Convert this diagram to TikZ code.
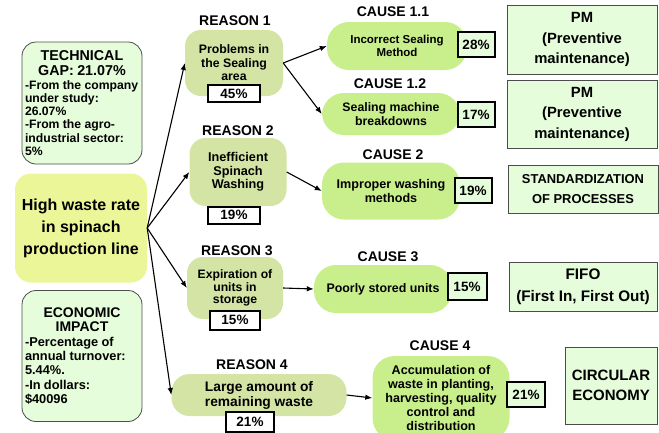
\documentclass[tikz,border=0pt]{standalone}
\usepackage{fontspec}
\setmainfont{Liberation Sans}
\usetikzlibrary{arrows.meta}
\definecolor{infofill}{RGB}{229,253,218}
\definecolor{mainfill}{RGB}{234,246,152}
\definecolor{reasonfill}{RGB}{212,228,165}
\definecolor{causefill}{RGB}{200,239,140}
\newcommand{\fs}[2]{\fontsize{#1}{#2}\selectfont}
\tikzset{arrow/.style={-{Latex[length=7pt, width=5.5pt]}, line width=1.1pt}}
\tikzset{infobox/.style={draw=black!70, line width=0.8pt, fill=infofill, rounded corners=14pt, inner sep=3pt, font=\bfseries}}
\tikzset{mainbox/.style={fill=mainfill, rounded corners=16pt, align=center, font=\bfseries}}
\tikzset{reasonbox/.style={fill=reasonfill, rounded corners=16pt, align=center, font=\bfseries}}
\tikzset{causebox/.style={fill=causefill, rounded corners=22pt, align=center, font=\bfseries}}
\tikzset{pctbox/.style={draw=black, line width=2pt, fill=white, font=\bfseries\fs{13.5}{15}, inner sep=0pt}}
\tikzset{cpctbox/.style={pctbox, fill=infofill}}
\tikzset{actionbox/.style={draw=black!70, line width=0.8pt, fill=infofill, align=center, font=\bfseries}}
\tikzset{head/.style={font=\bfseries\fs{14}{16}, inner sep=0pt}}

\begin{document}
\begin{tikzpicture}[x=1pt, y=-1pt]
    \useasboundingbox (0,0) rectangle (659,432);
    % left column
    \node[infobox, minimum width=120pt, minimum height=122pt, text width=114pt] (gap) at (82,103) {{\fs{14.3}{15.5}\centering TECHNICAL\\GAP: 21.07\%\par}{\fs{12.2}{13.3}\raggedright -From the company\\under study:\\26.07\%\\-From the agro-\\industrial sector:\\5\%\par}};
    \node[mainbox, minimum width=132pt, minimum height=109pt, font=\bfseries\fs{16}{22}] (main) at (81,228) {High waste rate\\in spinach\\production line};
    \node[infobox, minimum width=119pt, minimum height=131pt, text width=114pt] (econ) at (82,356) {{\fs{14}{14.5}\centering ECONOMIC\\IMPACT\par}{\fs{12.8}{14.3}\raggedright -Percentage of\\annual turnover:\\5.44\%.\\-In dollars:\\\$40096\par}};
    % reasons
    \node[head] (r1lab) at (235,21) {REASON 1};
    \node[reasonbox, minimum width=98pt, minimum height=66pt, font=\bfseries\fs{12.3}{13.5}] (r1) at (234,63) {Problems in\\the Sealing\\area};
    \node[pctbox, minimum width=52pt, minimum height=17pt] (r1p) at (234,93.5) {45\%};
    \node[head] (r2lab) at (238,131) {REASON 2};
    \node[reasonbox, minimum width=97pt, minimum height=68pt, font=\bfseries\fs{12.7}{13.5}] (r2) at (238,172) {Inefficient\\Spinach\\Washing};
    \node[pctbox, minimum width=52pt, minimum height=17pt] (r2p) at (234,215) {19\%};
    \node[head] (r3lab) at (237,251) {REASON 3};
    \node[reasonbox, minimum width=96pt, minimum height=62pt, font=\bfseries\fs{12.2}{12.8}] (r3) at (235,288) {Expiration of\\units in\\storage};
    \node[pctbox, minimum width=50pt, minimum height=19pt] (r3p) at (235,320) {15\%};
    \node[head] (r4lab) at (252,365) {REASON 4};
    \node[reasonbox, minimum width=175pt, minimum height=42pt, rounded corners=18pt, font=\bfseries\fs{13.8}{15}] (r4) at (259,395) {Large amount of\\remaining waste};
    \node[pctbox, minimum width=48pt, minimum height=20pt] (r4p) at (250,422) {21\%};
    % causes
    \node[head] (c11lab) at (393,12) {CAUSE 1.1};
    \node[causebox, minimum width=140pt, minimum height=48pt, font=\bfseries\fs{11.5}{13}] (c11) at (397,46) {Incorrect Sealing\\Method};
    \node[cpctbox, minimum width=37pt, minimum height=25pt] (c11p) at (476,44.5) {28\%};
    \node[head] (c12lab) at (390,84) {CAUSE 1.2};
    \node[causebox, minimum width=138pt, minimum height=42pt, font=\bfseries\fs{12.3}{13.5}] (c12) at (391,114) {Sealing machine\\breakdowns};
    \node[cpctbox, minimum width=37pt, minimum height=25pt] (c12p) at (476,114.5) {17\%};
    \node[head] (c2lab) at (393,155) {CAUSE 2};
    \node[causebox, minimum width=138pt, minimum height=57pt, font=\bfseries\fs{12.6}{14}] (c2) at (391,191) {Improper washing\\methods};
    \node[cpctbox, minimum width=37pt, minimum height=25pt] (c2p) at (473,190.5) {19\%};
    \node[head] (c3lab) at (388,257) {CAUSE 3};
    \node[causebox, minimum width=138pt, minimum height=48pt, font=\bfseries\fs{12.4}{14}] (c3) at (383,289) {Poorly stored units};
    \node[cpctbox, minimum width=39pt, minimum height=27pt] (c3p) at (467,286.5) {15\%};
    \node[head] (c4lab) at (440,346) {CAUSE 4};
    \node[causebox, minimum width=137pt, minimum height=84pt, font=\bfseries\fs{12.6}{13.8}] (c4) at (441,398) {Accumulation of\\waste in planting,\\harvesting, quality\\control and\\distribution};
    \node[cpctbox, minimum width=38pt, minimum height=25pt] (c4p) at (526,394.5) {21\%};
    % actions
    \node[actionbox, minimum width=150pt, minimum height=69pt, font=\bfseries\fs{14.8}{20.5}] (a11) at (582,39.5) {PM\\(Preventive\\maintenance)};
    \node[actionbox, minimum width=150pt, minimum height=68pt, font=\bfseries\fs{14.8}{20.5}] (a12) at (582,114) {PM\\(Preventive\\maintenance)};
    \node[actionbox, minimum width=150pt, minimum height=48pt, font=\bfseries\fs{12.9}{20}] (a2) at (583,189) {STANDARDIZATION\\OF PROCESSES};
    \node[actionbox, minimum width=148pt, minimum height=49pt, font=\bfseries\fs{15.3}{22}] (a3) at (583,286.5) {FIFO\\(First In, First Out)};
    \node[actionbox, minimum width=92pt, minimum height=77pt, font=\bfseries\fs{15}{20}] (a4) at (611,385.5) {CIRCULAR\\ECONOMY};
    % arrows
    \draw[arrow] (main.east) -- (r1.west);
    \draw[arrow] (main.east) -- (r2.west);
    \draw[arrow] (main.east) -- (r3.west);
    \draw[arrow] (main.east) -- (r4.west);
    \draw[arrow] (r1.east) -- (c11.west);
    \draw[arrow] (r1.east) -- (c12.west);
    \draw[arrow] (r2.east) -- (c2.west);
    \draw[arrow] (r3.east) -- (c3.west);
    \draw[arrow] (r4.east) -- (c4.west);
\end{tikzpicture}
\end{document}
